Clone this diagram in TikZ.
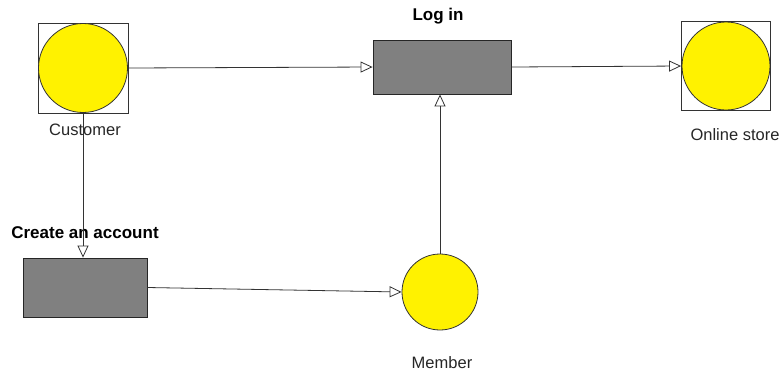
\documentclass[tikz,border=0pt]{standalone}
\usepackage{fontspec}
\setmainfont{Liberation Sans}
\usetikzlibrary{arrows.meta}

\tikzset{
  actor/.style={draw=black!80, line width=0.8pt, inner sep=0pt},
  ball/.style={circle, draw=black!80, line width=0.8pt, fill=yellow, minimum size=#1, inner sep=0pt},
  task/.style={draw=black!85, line width=0.8pt, fill=gray, inner sep=0pt},
  nametext/.style={font=\fontsize{16.5}{18}\selectfont, text=black!85},
  titletext/.style={font=\bfseries\fontsize{17}{19}\selectfont},
  flow/.style={draw=black!80, line width=0.8pt, -{Triangle[open, length=12pt, width=11pt]}},
}

\begin{document}
\begin{tikzpicture}[x=1pt, y=-1pt]
    \useasboundingbox (0,0) rectangle (782,376);

    % actors
    \node[actor, minimum size=90pt] (customer) at (83,68) {};
    \node[ball=89pt] (customer ball) at (83,68) {};
    \node[actor, minimum size=89pt] (store) at (726,66) {};
    \node[ball=88pt] (store ball) at (726,66) {};
    \node[ball=76pt] (member) at (440,292) {};

    % tasks
    \node[task, minimum width=138pt, minimum height=54pt] (login) at (442,67) {};
    \node[task, minimum width=124pt, minimum height=59pt] (account) at (85,287.5) {};

    % texts
    \node[nametext] (customer name) at (85,130) {Customer};
    \node[nametext] (store name) at (735,135) {Online store};
    \node[nametext] (member name) at (442,363) {Member};
    \node[titletext] (login name) at (438,16) {Log in};
    \node[titletext] (account name) at (85,233) {Create an account};

    % arrows
    \draw[flow] (customer.east) -- (login.west);
    \draw[flow] (login.east) -- (store.west);
    \draw[flow] (customer.south) -- (customer.south |- account.north);
    \draw[flow] (account.east) -- (member.west);
    \draw[flow] (member.north) -- (member.north |- login.south);
\end{tikzpicture}
\end{document}
